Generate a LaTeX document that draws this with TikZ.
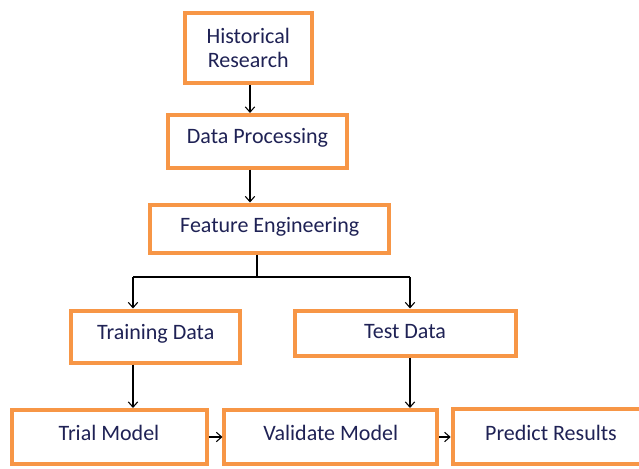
\documentclass[tikz,border=0pt]{standalone}
\usepackage{fontspec}
\setmainfont{Carlito}
\usetikzlibrary{arrows.meta}
\definecolor{boxorange}{HTML}{F79646}
\definecolor{txtnavy}{HTML}{1F2255}
\begin{document}
\begin{tikzpicture}[x=0.75pt,y=-0.75pt,
  box/.style={draw=boxorange, line width=3pt, fill=white, inner sep=0pt, outer sep=0pt,
    font=\fontsize{16.5}{18}\selectfont, text=txtnavy},
  one/.style={text height=#1, text depth=0pt},
  arr/.style={draw=black, line width=0.8pt, shorten >=1.5pt, shorten <=1.5pt,
    -{Straight Barb[length=4pt,width=7pt]}},
  ln/.style={draw=black, line width=0.8pt}]
\useasboundingbox (0,0) rectangle (639,468);
\clip (0,0) rectangle (639,468);
\node[box, align=center, minimum width=95.6pt, minimum height=52.5pt] (hist) at (248.25,47.5) {Historical\\Research};
\node[box, one=3pt, minimum width=134.25pt, minimum height=39.4pt] (data) at (257.5,141.25) {Data Processing};
\node[box, one=5.3pt, minimum width=179.6pt, minimum height=36pt] (feat) at (269.75,228.5) {Feature Engineering};
\node[box, one=4.6pt, minimum width=127.1pt, minimum height=39pt] (train) at (155.75,336.5) {Training Data};
\node[box, one=8.6pt, minimum width=165.75pt, minimum height=33.75pt] (test) at (405,333) {Test Data};
\node[box, one=4.6pt, minimum width=146.25pt, minimum height=40.5pt] (trial) at (109,437) {Trial Model};
\node[box, one=4.6pt, minimum width=159.4pt, minimum height=40.5pt] (valid) at (330.75,437) {Validate Model};
\node[box, one=5.8pt, minimum width=147.4pt, minimum height=41.25pt] (pred) at (551,436.5) {Predict Results};
\coordinate (c1) at (250,0);
\coordinate (j) at (257,277);
\coordinate (jl) at (133,277);
\coordinate (jr) at (410,277);
\draw[arr] (hist.south -| c1) -- (data.north -| c1);
\draw[arr] (data.south -| c1) -- (feat.north -| c1);
\draw[ln, shorten <=1.5pt] (feat.south -| j) -- (j);
\draw[ln] (jl) -- (jr);
\draw[arr, shorten <=0pt] (jl) -- (train.north -| jl);
\draw[arr, shorten <=0pt] (jr) -- (test.north -| jr);
\draw[arr] (train.south -| jl) -- (trial.north -| jl);
\draw[arr] (test.south -| jr) -- (valid.north -| jr);
\draw[arr] (trial.east) -- (valid.west);
\draw[arr] (valid.east) -- (pred.west |- valid.east);
\end{tikzpicture}
\end{document}
